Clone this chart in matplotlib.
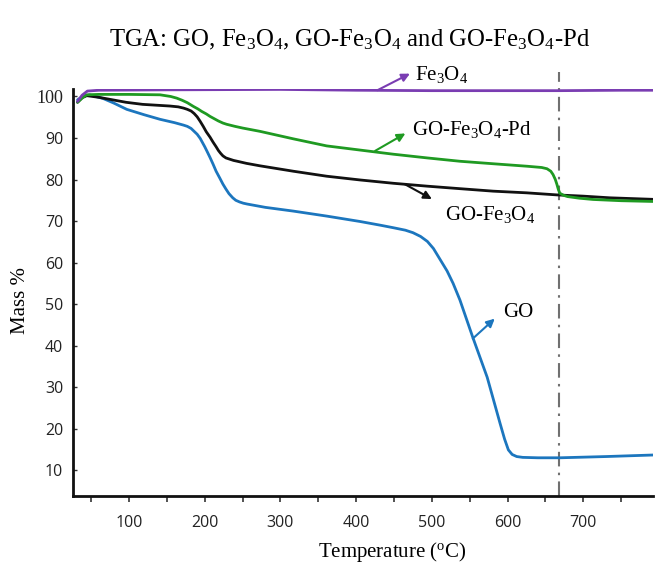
import matplotlib
matplotlib.use("Agg")
import matplotlib.pyplot as plt

plt.rcParams['mathtext.fontset'] = 'custom'
plt.rcParams['mathtext.rm'] = 'Liberation Serif'
plt.rcParams['mathtext.it'] = 'Liberation Serif:italic'

SERIF = 'Liberation Serif'
SANS = 'Open Sans'

# ---- data ----
fe_T = [32, 38, 45, 60, 150, 300, 400, 500, 600, 668, 750, 797]
fe_m = [98.8, 100.3, 101.3, 101.5, 101.6, 101.7, 101.5, 101.4, 101.4, 101.4, 101.5, 101.5]

pd_T = [32, 38, 44, 60, 100, 141, 155, 163, 170, 177, 185, 191, 196, 202, 207, 213, 218, 224, 229,
        240, 250, 273, 317, 361, 405, 449, 494, 537, 581, 626, 645, 652, 657, 660, 663, 665, 667,
        669, 674, 679, 695, 713, 750, 797]
pd_m = [98.6, 99.6, 100.4, 100.5, 100.5, 100.4, 100.0, 99.6, 99.1, 98.5, 97.6, 97.0, 96.4, 95.8,
        95.2, 94.6, 94.1, 93.6, 93.3, 92.8, 92.4, 91.6, 89.8, 88.1, 87.1, 86.1, 85.2, 84.4, 83.8,
        83.2, 82.9, 82.6, 82.0, 81.2, 80.0, 78.9, 77.6, 76.7, 76.2, 75.9, 75.5, 75.2, 74.9, 74.7]

gof_T = [32, 38, 44, 60, 75, 96, 118, 154, 165, 172, 177, 182, 186, 190, 194, 198, 202, 207, 211,
         215, 218, 221, 224, 228, 233, 238, 243, 255, 273, 317, 361, 405, 449, 494, 537, 581, 625,
         665, 700, 735, 797]
gof_m = [98.6, 99.7, 100.2, 99.8, 99.3, 98.6, 98.1, 97.7, 97.5, 97.2, 96.9, 96.5, 95.9, 95.1, 94.0,
         92.8, 91.5, 90.2, 89.0, 87.9, 87.0, 86.3, 85.7, 85.2, 84.9, 84.6, 84.4, 83.9, 83.3, 82.0,
         80.8, 79.9, 79.1, 78.4, 77.8, 77.2, 76.8, 76.3, 76.0, 75.6, 75.2]

go_T = [32, 38, 48, 66, 80, 97, 120, 141, 160, 172, 177, 182, 186, 190, 194, 197, 200, 203, 207,
        211, 215, 220, 224, 228, 232, 237, 241, 246, 251, 256, 280, 317, 361, 405, 432, 449, 465,
        475, 485, 494, 502, 510, 520, 528, 537, 554, 573, 590, 596, 601, 606, 612, 620, 640, 669,
        730, 797]
go_m = [99.2, 99.9, 100.4, 99.5, 98.4, 96.9, 95.6, 94.5, 93.7, 93.1, 92.8, 92.3, 91.6, 90.9, 89.9,
        88.9, 87.9, 86.8, 85.3, 83.7, 82.0, 80.3, 78.9, 77.7, 76.6, 75.6, 75.0, 74.6, 74.3, 74.1,
        73.3, 72.4, 71.2, 69.9, 69.0, 68.4, 67.8, 67.2, 66.3, 65.1, 63.4, 61.0, 58.0, 55.0, 51.0,
        42.0, 32.4, 21.3, 17.5, 14.9, 13.8, 13.3, 13.1, 13.0, 13.0, 13.3, 13.7]

x_major = [100, 200, 300, 400, 500, 600, 700]
x_minor = [50, 150, 250, 350, 450, 550, 650, 750]
y_ticks = [10, 20, 30, 40, 50, 60, 70, 80, 90, 100]
vline_T = 668

C_FE = '#7a3db2'
C_PD = '#1f9a22'
C_GOF = '#111111'
C_GO = '#1c76be'

fig = plt.figure(figsize=(6.6, 5.68), dpi=100)
ax = fig.add_axes([73/660, 1-496/568, (653-73)/660, (496-89)/568])

lw = 2.0
ax.plot(go_T, go_m, color=C_GO, lw=lw, solid_capstyle='round', solid_joinstyle='round')
ax.plot(gof_T, gof_m, color=C_GOF, lw=lw, solid_capstyle='round', solid_joinstyle='round')
ax.plot(pd_T, pd_m, color=C_PD, lw=lw, solid_capstyle='round', solid_joinstyle='round')
ax.plot(fe_T, fe_m, color=C_FE, lw=lw, solid_capstyle='round', solid_joinstyle='round')

ax.set_xlim(26, 792)
ax.set_ylim(3.8, 101.8)

# vertical dash-dot line (extends above the axes)
ax.plot([vline_T, vline_T], [3.8, 106], color='#707070', lw=1.5,
        linestyle=(0, (7, 3, 1.2, 3)), clip_on=False, zorder=1)

for s in ['top', 'right']:
    ax.spines[s].set_visible(False)
for s in ['left', 'bottom']:
    ax.spines[s].set_linewidth(2.0)
    ax.spines[s].set_color('#111111')

ax.set_xticks(x_major)
ax.set_xticks(x_minor, minor=True)
ax.set_xticklabels([str(v) for v in x_major], fontfamily=SANS, fontsize=11.5, color='#222222')
ax.tick_params(axis='x', which='both', direction='out', length=4, width=1.2, pad=10, color='#333333')
ax.set_yticks(y_ticks)
ax.set_yticklabels([str(v) for v in y_ticks], fontfamily=SANS, fontsize=11.5, color='#222222')
ax.tick_params(axis='y', direction='in', length=3, width=1.0, pad=7, color='#333333')
ylabs = ax.get_yticklabels()
ylabs[-1].set_fontfamily(SERIF)
ylabs[-1].set_fontsize(13)

ax.set_xlabel(r'Temperature ($^{\mathregular{o}}$C)', fontfamily=SERIF, fontsize=15)
ax.set_ylabel('Mass %', fontfamily=SERIF, fontsize=15)
ax.xaxis.set_label_coords(0.55, -0.108)
ax.yaxis.set_label_coords(-0.074, 0.48)

fig.text(350/660, 1-40/568, r'TGA: GO, Fe$_3$O$_4$, GO-Fe$_3$O$_4$ and GO-Fe$_3$O$_4$-Pd',
         fontfamily=SERIF, fontsize=17.8, ha='center', va='center')

def arrow(tail, tip, color):
    ax.annotate('', xy=tip, xytext=tail, annotation_clip=False,
                arrowprops=dict(arrowstyle='-|>', color=color, lw=1.5,
                                mutation_scale=12, shrinkA=0, shrinkB=0))

arrow((428, 101.5), (471, 105.5), C_FE)
ax.text(478, 105.3, r'Fe$_3$O$_4$', fontfamily=SERIF, fontsize=15, va='center', clip_on=False)

arrow((425, 86.9), (465, 91.1), C_PD)
ax.text(474, 92.1, r'GO-Fe$_3$O$_4$-Pd', fontfamily=SERIF, fontsize=15, va='center')

arrow((464, 78.9), (500, 75.3), C_GOF)
ax.text(517, 71.7, r'GO-Fe$_3$O$_4$', fontfamily=SERIF, fontsize=15, va='center')

arrow((554, 41.7), (583, 46.5), C_GO)
ax.text(594, 48.0, 'GO', fontfamily=SERIF, fontsize=15, va='center')

fig.savefig('out.png', dpi=100)
